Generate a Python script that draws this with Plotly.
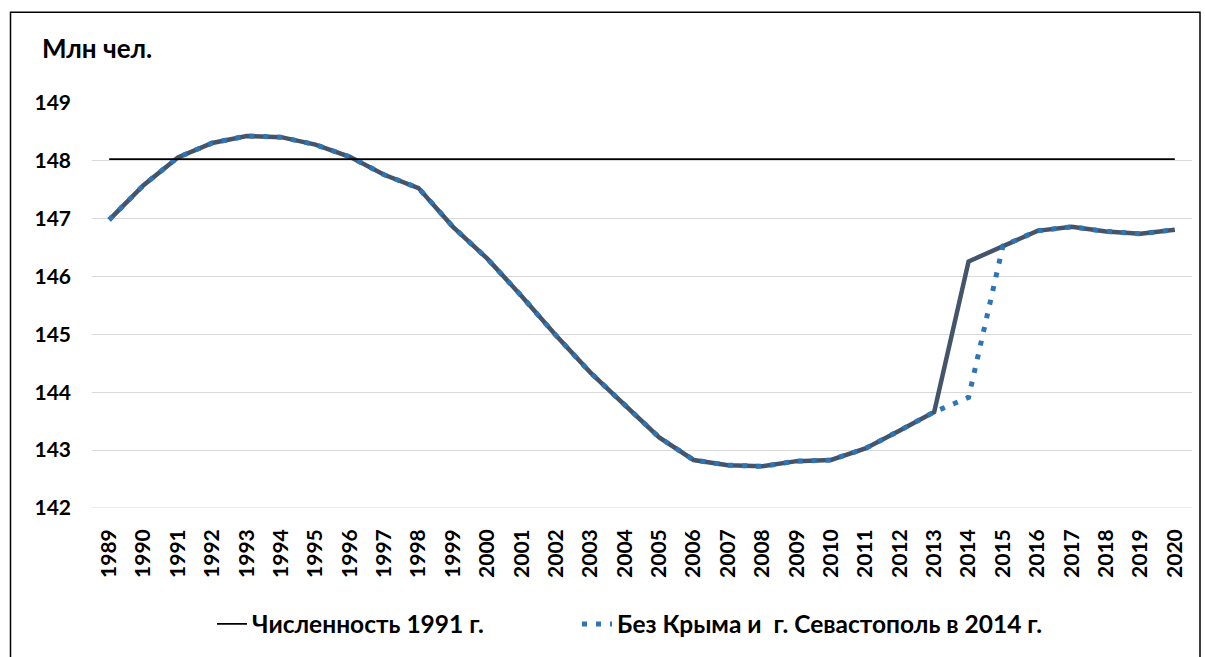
import plotly.graph_objects as go

years = list(range(1989, 2021))
population = [146.98, 147.58, 148.06, 148.31, 148.43, 148.41, 148.28, 148.07,
              147.76, 147.53, 146.86, 146.31, 145.66, 144.98, 144.34, 143.79,
              143.22, 142.83, 142.74, 142.72, 142.81, 142.83, 143.03, 143.34,
              143.66, 146.26, 146.53, 146.79, 146.86, 146.78, 146.74, 146.81]
population_no_crimea = population[:25] + [143.91] + population[26:]
level_1991 = 148.03

name_1991 = "Численность 1991 г."
name_no_crimea = "Без Крыма и  г. Севастополь в 2014 г."
y_title = "Млн чел."

L, R, T, B = 92, 13, 103, 148
W, H = 1205, 657
pw, ph = W - L - R, H - T - B

def px_x(p):
    return (p - L) / pw

def px_y(p):
    return (H - B - p) / ph

tick_font = dict(family="Lato, DejaVu Sans", size=21, color="#000000", weight="bold")
legend_font = dict(family="Lato, sans-serif", size=24.5, color="#000000", weight="bold")

fig = go.Figure()
fig.add_trace(go.Scatter(
    x=years, y=population, mode="lines", showlegend=False,
    line=dict(color="#44546A", width=4.5), hoverinfo="skip"))
fig.add_trace(go.Scatter(
    x=years, y=population_no_crimea, mode="lines", name=name_no_crimea,
    line=dict(color="#2E75B6", width=5, dash="5px,9px"), legend="legend2"))
fig.add_trace(go.Scatter(
    x=[years[0], years[-1]], y=[level_1991, level_1991], mode="lines",
    name=name_1991, line=dict(color="#000000", width=1.8), legend="legend"))

fig.update_layout(
    width=W, height=H,
    margin=dict(l=L, r=R, t=T, b=B, pad=0),
    paper_bgcolor="#FFFFFF", plot_bgcolor="#FFFFFF",
    xaxis=dict(range=[1988.5, 2020.5], tickmode="array", tickvals=years,
               ticktext=[str(y) for y in years], tickangle=-90,
               tickfont=tick_font, showgrid=False, zeroline=False,
               showline=False, ticks="", ticklabelstandoff=16),
    yaxis=dict(range=[142, 149], dtick=1, tickfont=tick_font,
               showgrid=True, gridcolor="#D9D9D9", gridwidth=1,
               zeroline=False, showline=False, ticks="",
               ticklabelstandoff=20),
    legend=dict(orientation="h", x=px_x(212), y=px_y(624), xanchor="left",
                yanchor="middle", font=legend_font, bgcolor="rgba(0,0,0,0)"),
    legend2=dict(orientation="h", x=px_x(577), y=px_y(624), xanchor="left",
                 yanchor="middle", font=legend_font, bgcolor="rgba(0,0,0,0)"),
    annotations=[dict(text=y_title, xref="paper", yref="paper",
                      x=px_x(40), y=px_y(48), xanchor="left", yanchor="middle",
                      showarrow=False,
                      font=dict(family="Lato, sans-serif", size=26,
                                color="#000000", weight="bold"))],
    shapes=[dict(type="rect", xref="paper", yref="paper",
                 x0=px_x(10.5), x1=px_x(1200), y0=px_y(700), y1=px_y(12),
                 line=dict(color="#000000", width=1.5), fillcolor="rgba(0,0,0,0)"),
            dict(type="line", xref="paper", yref="y", x0=0, x1=1, y0=142, y1=142,
                 line=dict(color="#D9D9D9", width=1))],
)

fig.write_html("out.html", config={"displayModeBar": False},
               post_script="document.body.style.margin='0';document.body.style.overflow='hidden';")
